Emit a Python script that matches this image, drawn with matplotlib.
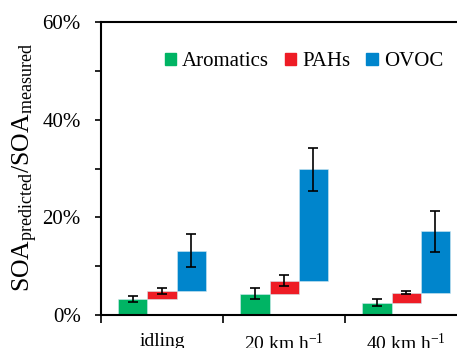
import numpy as np
import matplotlib.pyplot as plt
from matplotlib.patches import Rectangle
from matplotlib.ticker import MultipleLocator, FuncFormatter

plt.rcParams['font.family'] = ['Liberation Serif', 'DejaVu Serif']
plt.rcParams['mathtext.fontset'] = 'custom'
plt.rcParams['mathtext.rm'] = 'Liberation Serif'
plt.rcParams['mathtext.it'] = 'Liberation Serif:italic'

conditions = ['idling', r'20 km h$^{\mathregular{-1}}$', r'40 km h$^{\mathregular{-1}}$']
species = ['Aromatics', 'PAHs', 'OVOC']
colors = ['#00B464', '#EE1C25', '#0085CC']
# contribution of each species (%), stacked like a waterfall
aromatics = [3.3, 4.4, 2.5]
pahs = [1.6, 2.6, 2.1]
ovoc = [8.3, 22.8, 12.6]
# error bar half-widths at the top of each bar (%)
err_aromatics = [0.6, 1.1, 0.7]
err_pahs = [0.55, 1.1, 0.3]
err_ovoc = [3.3, 4.5, 4.2]

fig = plt.figure(figsize=(4.57, 3.48), dpi=100)
ax = fig.add_axes([0.221, 0.0948, 0.801, 0.842])

x = np.arange(len(conditions))
w = 0.238
vals = [aromatics, pahs, ovoc]
errs = [err_aromatics, err_pahs, err_ovoc]
base = np.zeros(len(conditions))
for i, (v, e) in enumerate(zip(vals, errs)):
    v = np.array(v)
    pos = x + (i - 1) * w
    ax.bar(pos, v, w, bottom=base, color=colors[i], edgecolor='#cfe8f0',
           linewidth=0.4, zorder=2)
    ax.errorbar(pos, base + v, yerr=e, fmt='none', ecolor='black',
                elinewidth=1.2, capsize=3.5, capthick=1.2, zorder=3)
    base = base + v

ax.set_xlim(-0.5, 2.5)
ax.set_ylim(0, 60)
ax.yaxis.set_major_locator(MultipleLocator(10))
ax.yaxis.set_major_formatter(FuncFormatter(lambda v, p: f'{v:.0f}%' if round(v) % 20 == 0 else ''))
ax.tick_params(axis='y', direction='out', length=4.5, width=1.2, pad=10, labelsize=15)

ax.set_xticks(x)
ax.set_xticklabels(conditions, fontsize=14)
ax.set_xticks([-0.5, 0.5, 1.5, 2.5], minor=True)
ax.tick_params(axis='x', which='major', length=0, pad=13)
ax.tick_params(axis='x', which='minor', direction='out', length=6, width=1.2)

for s in ['left', 'bottom', 'top']:
    ax.spines[s].set_linewidth(1.5)
ax.spines['right'].set_visible(False)

fig.text(0.055, 0.52,
         r'SOA$_{\mathregular{predicted}}$/SOA$_{\mathregular{measured}}$',
         rotation=90, ha='center', va='center', fontsize=18.5)

handles = [Rectangle((0, 0), 1, 1, color=c) for c in colors]
ax.legend(handles, species, ncol=3, frameon=False, fontsize=15,
          handlelength=0.55, handleheight=0.55, handletextpad=0.3,
          columnspacing=0.75, loc='center left',
          bbox_to_anchor=(0.36, 0.822), bbox_transform=fig.transFigure,
          borderaxespad=0, borderpad=0)

fig.savefig('out.png', dpi=100)
